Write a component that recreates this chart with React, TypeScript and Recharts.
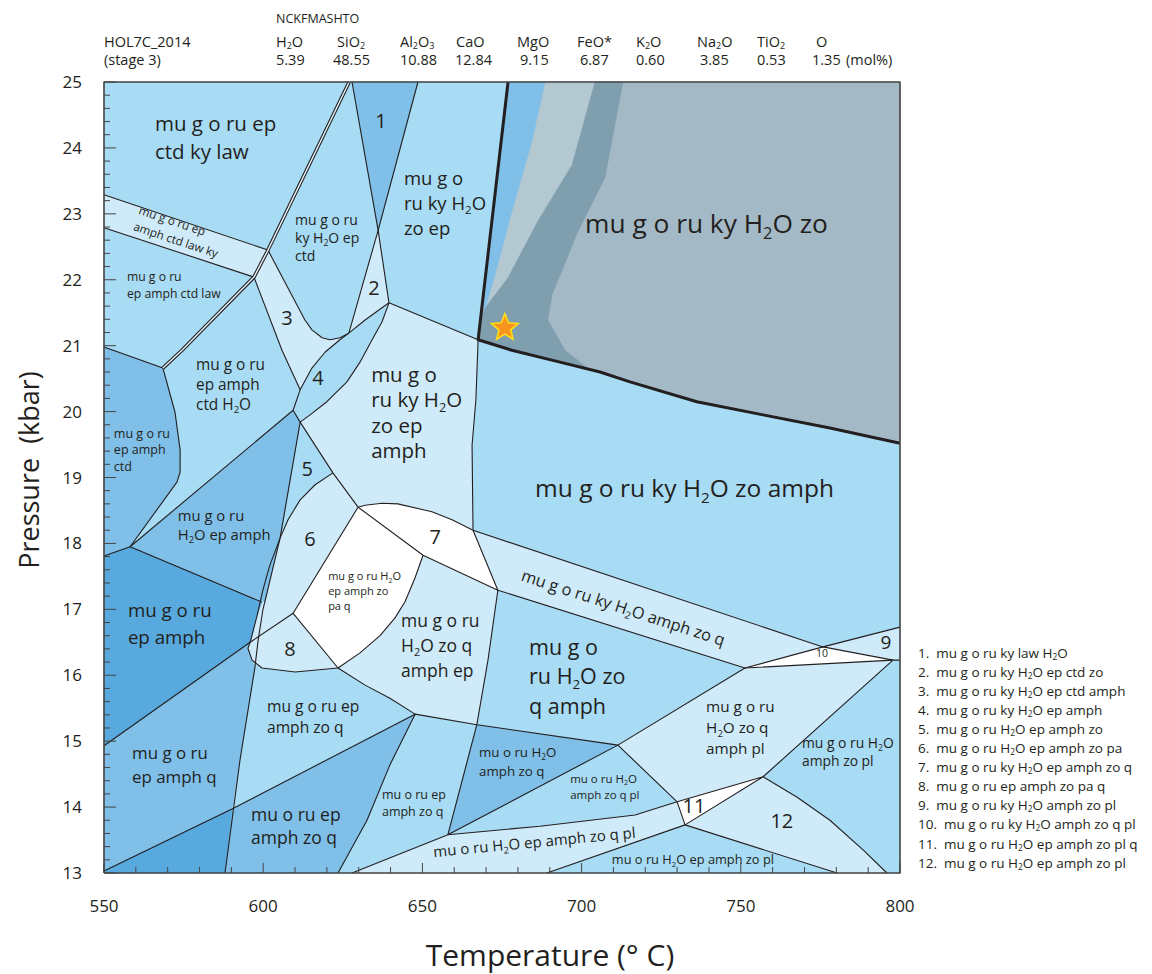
import React from 'react';
import { ComposedChart, Scatter, XAxis, YAxis } from 'recharts';

type Pt = [number, number];

const FONT = "'Open Sans', 'Noto Sans', sans-serif";
const INK = '#231f20';

const C_VLIGHT = '#cfeaf9';
const C_LIGHT = '#a8dbf4';
const C_MED = '#7fbfe8';
const C_DARK = '#57a9de';
const C_WHITE = '#ffffff';
const C_GREY = '#a4b9c6';
const C_GREY_LIGHT = '#b4c8d2';
const C_GREY_DARK = '#7f9fae';

// sample composition (mol%)
const OXIDES = ['H2O', 'SiO2', 'Al2O3', 'CaO', 'MgO', 'FeO*', 'K2O', 'Na2O', 'TiO2', 'O'];
const MOL = ['5.39', '48.55', '10.88', '12.84', '9.15', '6.87', '0.60', '3.85', '0.53', '1.35'];

// axis labels
const T_LABELS = [550, 600, 650, 700, 750, 800];
const P_LABELS = [13, 14, 15, 16, 17, 18, 19, 20, 21, 22, 23, 24, 25];
const T_MINOR = Array.from({ length: 26 }, (_, i) => 550 + i * 10);
const P_MINOR = Array.from({ length: 61 }, (_, i) => +(13 + i * 0.2).toFixed(1));

// ---- field polygons, (T °C, P kbar) ----
const frame: Pt[] = [[550, 13], [800, 13], [800, 25], [550, 25]];

const lawKyStrip: Pt[] = [[550, 23.29], [601.5, 22.45], [597.1, 22.04], [550, 22.79]];
const field3: Pt[] = [[601.5, 22.45], [613.1, 21.39], [615.3, 21.24], [618.5, 21.12], [621.0, 21.09], [624.1, 21.12], [626.9, 21.19], [624.1, 21.09], [619.4, 20.9], [615.3, 20.66], [611.6, 20.33], [605.9, 20.93], [597.1, 22.04]];
const field2: Pt[] = [[636.1, 22.75], [639.5, 21.65], [632.0, 21.39], [626.9, 21.19]];
const fieldZoEpAmph: Pt[] = [[611.6, 19.84], [614.7, 19.95], [620.0, 20.15], [626.3, 20.45], [630.4, 20.75], [634.2, 21.09], [637.3, 21.36], [639.5, 21.65], [667.5, 21.09], [666.8, 20.18], [665.6, 19.49], [665.9, 18.2], [659.3, 18.36], [653.0, 18.48], [642.3, 18.6], [637.3, 18.61], [632.0, 18.58], [629.8, 18.55], [621.9, 19.07]];
const field6: Pt[] = [[621.9, 19.07], [629.8, 18.55], [609.4, 16.94], [595.9, 16.5], [598.1, 16.91], [599.9, 17.29], [602.1, 17.67], [605.3, 18.08], [607.8, 18.36], [611.6, 18.66], [616.3, 18.89]];
const field8: Pt[] = [[595.9, 16.5], [609.4, 16.94], [623.5, 16.11], [610.0, 16.05], [599.6, 16.11], [596.5, 16.23], [595.2, 16.41]];
const fieldZoQAmphEp: Pt[] = [[650.2, 17.82], [673.7, 17.29], [670.6, 16.23], [667.1, 15.25], [647.7, 15.41], [639.8, 15.65], [632.0, 15.85], [623.5, 16.11], [630.4, 16.34], [636.7, 16.6], [641.4, 16.87], [644.5, 17.11], [647.7, 17.48]];
const stripKyAmphZoQ: Pt[] = [[665.9, 18.2], [775.8, 16.43], [751.3, 16.11], [673.7, 17.29]];
const field9: Pt[] = [[775.8, 16.43], [800, 16.73], [800, 16.23], [797.8, 16.23]];
const fieldZoQAmphPl: Pt[] = [[751.3, 16.11], [797.8, 16.23], [757.0, 14.46], [730.0, 14.08], [711.4, 14.94]];
const field12: Pt[] = [[757.0, 14.46], [767.7, 14.15], [778.0, 13.8], [788.4, 13.35], [795.9, 13.0], [780.2, 13.0], [732.5, 13.73]];
const stripEpAmphZoQPl: Pt[] = [[627.9, 13.0], [658.0, 13.58], [686.9, 13.71], [716.8, 13.88], [730.0, 14.08], [732.5, 13.73], [689.1, 13.0]];

const fieldPaQ: Pt[] = [[629.8, 18.55], [650.2, 17.82], [647.7, 17.48], [644.5, 17.11], [641.4, 16.87], [636.7, 16.6], [630.4, 16.34], [623.5, 16.11], [609.4, 16.94]];
const field7: Pt[] = [[629.8, 18.55], [632.0, 18.58], [637.3, 18.61], [642.3, 18.6], [653.0, 18.48], [659.3, 18.36], [665.9, 18.2], [673.7, 17.29], [650.2, 17.82]];
const field10: Pt[] = [[751.3, 16.11], [775.8, 16.43], [797.8, 16.23]];
const field11: Pt[] = [[730.0, 14.08], [757.0, 14.46], [732.5, 13.73]];

const field1: Pt[] = [[627.9, 25], [648.6, 25], [636.1, 22.75]];
const fieldEpAmphCtd: Pt[] = [[550, 20.98], [568.5, 20.66], [572.3, 19.99], [573.9, 19.42], [573.9, 19.08], [572.9, 18.93], [558.2, 17.95], [550, 17.81]];
const fieldH2OEpAmph: Pt[] = [[609.4, 20.02], [611.6, 19.84], [605.3, 18.08], [600.6, 17.11], [558.2, 17.95]];
const fieldEpAmphQ: Pt[] = [[550, 14.93], [595.9, 16.5], [595.2, 16.41], [596.5, 16.23], [597.4, 16.12], [590.2, 13.97], [550, 13.03]];
const fieldMuOEpAmphZoQ: Pt[] = [[588.0, 13.0], [590.2, 13.97], [647.7, 15.41], [639.8, 14.64], [632.6, 13.8], [623.5, 13.0]];
const fieldMuOH2OAmphZoQ: Pt[] = [[667.1, 15.25], [711.4, 14.94], [658.0, 13.58]];

const fieldEpAmph: Pt[] = [[550, 17.81], [558.2, 17.95], [599.6, 17.11], [598.1, 16.91], [595.9, 16.5], [550, 14.93]];
const cornerDark: Pt[] = [[550, 13.03], [590.2, 13.97], [588.0, 13.0], [550, 13.0]];

const greyField: Pt[] = [[676.9, 25], [800, 25], [800, 19.52], [778.0, 19.75], [757.0, 19.95], [736.2, 20.15], [715.2, 20.45], [705.8, 20.6], [693.2, 20.75], [678.1, 20.93], [667.5, 21.09]];
const greyLightBand: Pt[] = [[688.5, 25], [704.2, 25], [697.0, 23.74], [686.3, 22.89], [676.9, 22.03], [669.7, 21.57], [671.9, 21.92], [678.1, 23.04], [684.4, 24.1]];
const greyDarkBand: Pt[] = [[704.2, 25], [713.0, 25], [707.3, 23.54], [698.9, 22.74], [690.7, 21.77], [689.4, 21.39], [694.8, 20.93], [702.6, 20.63], [693.2, 20.75], [678.1, 20.93], [667.5, 21.09], [668.4, 21.42], [669.7, 21.57], [676.9, 22.03], [686.3, 22.89], [697.0, 23.74]];
const blueSliver: Pt[] = [[676.9, 25], [688.5, 25], [684.4, 24.1], [678.1, 23.04], [671.9, 21.92], [669.7, 21.57], [668.4, 21.57]];

const FILLS: { pts: Pt[]; color: string }[] = [
  { pts: frame, color: C_LIGHT },
  { pts: lawKyStrip, color: C_VLIGHT },
  { pts: field3, color: C_VLIGHT },
  { pts: field2, color: C_VLIGHT },
  { pts: fieldZoEpAmph, color: C_VLIGHT },
  { pts: field6, color: C_VLIGHT },
  { pts: fieldZoQAmphEp, color: C_VLIGHT },
  { pts: stripKyAmphZoQ, color: C_VLIGHT },
  { pts: field9, color: C_VLIGHT },
  { pts: fieldZoQAmphPl, color: C_VLIGHT },
  { pts: field12, color: C_VLIGHT },
  { pts: stripEpAmphZoQPl, color: C_VLIGHT },
  { pts: fieldPaQ, color: C_WHITE },
  { pts: field7, color: C_WHITE },
  { pts: field10, color: C_WHITE },
  { pts: field11, color: C_WHITE },
  { pts: field1, color: C_MED },
  { pts: fieldEpAmphCtd, color: C_MED },
  { pts: fieldH2OEpAmph, color: C_MED },
  { pts: fieldEpAmphQ, color: C_MED },
  { pts: fieldMuOEpAmphZoQ, color: C_MED },
  { pts: fieldMuOH2OAmphZoQ, color: C_MED },
  { pts: fieldEpAmph, color: C_DARK },
  { pts: cornerDark, color: C_DARK },
  { pts: field8, color: C_VLIGHT },
  { pts: greyField, color: C_GREY },
  { pts: greyLightBand, color: C_GREY_LIGHT },
  { pts: greyDarkBand, color: C_GREY_DARK },
  { pts: blueSliver, color: C_MED },
];

// ---- field boundaries ----
const doubleLine: Pt[] = [[627.0, 25], [601.5, 22.45], [597.1, 22.04], [574.5, 20.93], [568.5, 20.66]];
const thickLine: Pt[] = [[676.9, 25], [667.5, 21.09], [678.1, 20.93], [693.2, 20.75], [705.8, 20.6], [715.2, 20.45], [736.2, 20.15], [757.0, 19.95], [778.0, 19.75], [800, 19.52]];

const BOUNDARIES: Pt[][] = [
  [[550, 23.29], [601.5, 22.45]],
  [[550, 22.79], [597.1, 22.04]],
  [[550, 20.98], [568.5, 20.66]],
  [[568.5, 20.66], [572.3, 19.99], [573.9, 19.42], [573.9, 19.08], [572.9, 18.93], [558.2, 17.95]],
  [[550, 17.81], [558.2, 17.95]],
  [[558.2, 17.95], [609.4, 20.02]],
  [[597.1, 22.04], [605.9, 20.93], [611.6, 20.33]],
  [[601.5, 22.45], [613.1, 21.39], [615.3, 21.24], [618.5, 21.12], [621.0, 21.09], [624.1, 21.12], [626.9, 21.19]],
  [[627.9, 25], [636.1, 22.75], [626.9, 21.19]],
  [[648.6, 25], [636.1, 22.75], [639.5, 21.65]],
  [[609.4, 20.02], [611.6, 20.33], [615.3, 20.66], [619.4, 20.9], [624.1, 21.09], [626.9, 21.19], [632.0, 21.39], [639.5, 21.65]],
  [[639.5, 21.65], [637.3, 21.36], [634.2, 21.09], [630.4, 20.75], [626.3, 20.45], [620.0, 20.15], [614.7, 19.95], [611.6, 19.84], [609.4, 20.02]],
  [[639.5, 21.65], [667.5, 21.09]],
  [[667.5, 21.09], [666.8, 20.18], [665.6, 19.49], [665.9, 18.2]],
  [[629.8, 18.55], [632.0, 18.58], [637.3, 18.61], [642.3, 18.6], [653.0, 18.48], [659.3, 18.36], [665.9, 18.2]],
  [[665.9, 18.2], [775.8, 16.43], [800, 16.73]],
  [[611.6, 19.84], [621.9, 19.07], [629.8, 18.55]],
  [[621.9, 19.07], [616.3, 18.89], [611.6, 18.66], [607.8, 18.36], [605.3, 18.08], [602.1, 17.67], [599.9, 17.29], [598.1, 16.91], [595.9, 16.5], [595.2, 16.41], [596.5, 16.23], [599.6, 16.11], [610.0, 16.05], [623.5, 16.11]],
  [[611.6, 19.84], [605.3, 18.08], [599.9, 16.99], [598.4, 16.53], [597.4, 16.12], [592.7, 14.71], [588.0, 13.0]],
  [[558.2, 17.95], [599.6, 17.11]],
  [[550, 14.93], [595.9, 16.5], [609.4, 16.94]],
  [[629.8, 18.55], [609.4, 16.94], [623.5, 16.11]],
  [[629.8, 18.55], [650.2, 17.82], [673.7, 17.29]],
  [[665.9, 18.2], [673.7, 17.29], [670.6, 16.23], [667.1, 15.25]],
  [[650.2, 17.82], [647.7, 17.48], [644.5, 17.11], [641.4, 16.87], [636.7, 16.6], [630.4, 16.34], [623.5, 16.11]],
  [[623.5, 16.11], [632.0, 15.85], [639.8, 15.65], [647.7, 15.41]],
  [[550, 13.03], [590.2, 13.97], [647.7, 15.41], [667.1, 15.25], [711.4, 14.94]],
  [[647.7, 15.41], [639.8, 14.64], [632.6, 13.8], [623.5, 13.0]],
  [[673.7, 17.29], [751.3, 16.11], [797.8, 16.23], [800, 16.23]],
  [[751.3, 16.11], [775.8, 16.43], [797.8, 16.23]],
  [[751.3, 16.11], [711.4, 14.94], [658.0, 13.58], [627.9, 13.0]],
  [[667.1, 15.25], [658.0, 13.58]],
  [[658.0, 13.58], [686.9, 13.71], [716.8, 13.88], [730.0, 14.08]],
  [[711.4, 14.94], [730.0, 14.08], [732.5, 13.73], [689.1, 13.0]],
  [[730.0, 14.08], [757.0, 14.46], [732.5, 13.73], [780.2, 13.0]],
  [[797.8, 16.23], [757.0, 14.46], [767.7, 14.15], [778.0, 13.8], [788.4, 13.35], [795.9, 13.0]],
];

// ---- field labels ----
type FieldLabel = { T: number; P: number; lines: string[]; size: number; lh?: number; rot?: number };
const FIELD_LABELS: FieldLabel[] = [
  { T: 566.0, P: 24.26, lines: ['mu g o ru ep', 'ctd ky law'], size: 20.5, lh: 28 },
  { T: 610.0, P: 22.83, lines: ['mu g o ru', 'ky H2O ep', 'ctd'], size: 14, lh: 18 },
  { T: 560.7, P: 23.0, lines: ['mu g o ru ep', 'amph ctd law ky'], size: 11.7, lh: 17, rot: 18.5 },
  { T: 557.2, P: 21.98, lines: ['mu g o ru', 'ep amph ctd law'], size: 12.2, lh: 17 },
  { T: 644.2, P: 23.44, lines: ['mu g o', 'ru ky H2O', 'zo ep'], size: 18.5, lh: 25 },
  { T: 701.1, P: 22.71, lines: ['mu g o ru ky H2O zo'], size: 26.3 },
  { T: 578.9, P: 20.63, lines: ['mu g o ru', 'ep amph', 'ctd H2O'], size: 15.4, lh: 20 },
  { T: 553.1, P: 19.6, lines: ['mu g o ru', 'ep amph', 'ctd'], size: 12.5, lh: 16.5 },
  { T: 573.2, P: 18.34, lines: ['mu g o ru', 'H2O ep amph'], size: 14.8, lh: 19 },
  { T: 620.4, P: 17.44, lines: ['mu g o ru H2O', 'ep amph zo', 'pa q'], size: 11, lh: 15 },
  { T: 633.9, P: 20.45, lines: ['mu g o', 'ru ky H2O', 'zo ep', 'amph'], size: 20.5, lh: 25.3 },
  { T: 685.4, P: 18.7, lines: ['mu g o ru ky H2O zo amph'], size: 24.5 },
  { T: 680.7, P: 17.44, lines: ['mu g o ru ky H2O amph zo q'], size: 16.3, rot: 18 },
  { T: 557.5, P: 16.88, lines: ['mu g o ru', 'ep amph'], size: 18.7, lh: 27 },
  { T: 601.2, P: 15.44, lines: ['mu g o ru ep', 'amph zo q'], size: 15.6, lh: 21 },
  { T: 558.8, P: 14.73, lines: ['mu g o ru', 'ep amph q'], size: 16.9, lh: 24 },
  { T: 596.2, P: 13.79, lines: ['mu o ru ep', 'amph zo q'], size: 17.5, lh: 23 },
  { T: 643.3, P: 16.73, lines: ['mu g o ru', 'H2O zo q', 'amph ep'], size: 17.5, lh: 25 },
  { T: 683.5, P: 16.31, lines: ['mu g o', 'ru H2O zo', 'q amph'], size: 21.5, lh: 29.5 },
  { T: 667.8, P: 14.76, lines: ['mu o ru H2O', 'amph zo q'], size: 13.3, lh: 19 },
  { T: 637.3, P: 14.12, lines: ['mu o ru ep', 'amph zo q'], size: 12.5, lh: 16.5 },
  { T: 696.4, P: 14.37, lines: ['mu o ru H2O', 'amph zo q pl'], size: 11.5, lh: 16 },
  { T: 653.6, P: 13.24, lines: ['mu o ru H2O ep amph zo q pl'], size: 15, rot: -5.5 },
  { T: 739.1, P: 15.44, lines: ['mu g o ru', 'H2O zo q', 'amph pl'], size: 15.3, lh: 21 },
  { T: 769.2, P: 14.9, lines: ['mu g o ru H2O', 'amph zo pl'], size: 13.9, lh: 18 },
  { T: 709.5, P: 13.14, lines: ['mu o ru H2O ep amph zo pl'], size: 12.8 },
];

const FIELD_NUMBERS = [
  { T: 637.0, P: 24.42, n: '1', size: 20 },
  { T: 634.8, P: 21.89, n: '2', size: 20 },
  { T: 607.5, P: 21.43, n: '3', size: 20 },
  { T: 617.2, P: 20.51, n: '4', size: 20 },
  { T: 613.8, P: 19.14, n: '5', size: 20 },
  { T: 614.7, P: 18.08, n: '6', size: 20 },
  { T: 654.0, P: 18.1, n: '7', size: 20 },
  { T: 608.4, P: 16.4, n: '8', size: 20 },
  { T: 795.6, P: 16.5, n: '9', size: 19 },
  { T: 775.5, P: 16.34, n: '10', size: 10.5 },
  { T: 735.3, P: 14.03, n: '11', size: 20 },
  { T: 762.9, P: 13.8, n: '12', size: 20 },
];

const SAMPLE_POINT = [{ T: 675.9, P: 21.27 }];

const LEGEND = [
  'mu g o ru ky law H2O',
  'mu g o ru ky H2O ep ctd zo',
  'mu g o ru ky H2O ep ctd amph',
  'mu g o ru ky H2O ep amph',
  'mu g o ru H2O ep amph zo',
  'mu g o ru H2O ep amph zo pa',
  'mu g o ru ky H2O ep amph zo q',
  'mu g o ru ep amph zo pa q',
  'mu g o ru ky H2O amph zo pl',
  'mu g o ru ky H2O amph zo q pl',
  'mu g o ru H2O ep amph zo pl q',
  'mu g o ru H2O ep amph zo pl',
];

const toData = (pts: Pt[]) => pts.map(([T, P]) => ({ T, P }));
const ptsAttr = (points: any[]) => (points || []).map((p) => `${p.x},${p.y}`).join(' ');

const fillLine = (fill: string) => (props: any) => (
  <polygon points={ptsAttr(props.points)} fill={fill} stroke={fill} strokeWidth={0.5} />
);
const strokeLine = (stroke: string, width: number) => (props: any) => (
  <polyline points={ptsAttr(props.points)} fill="none" stroke={stroke} strokeWidth={width} strokeLinejoin="round" />
);
const noDot = () => <g />;

// "H2O" with a lowered 2 inside svg text
function svgChem(s: string, size: number) {
  const parts = s.split('H2O');
  const out: React.ReactNode[] = [];
  parts.forEach((p, i) => {
    if (i > 0) {
      out.push(<tspan key={`h${i}`}>H</tspan>);
      out.push(<tspan key={`s${i}`} fontSize={size * 0.62} dy={size * 0.22}>2</tspan>);
      out.push(<tspan key={`o${i}`} dy={-size * 0.22}>O</tspan>);
    }
    if (p) out.push(<tspan key={`p${i}`}>{p}</tspan>);
  });
  return out;
}

// digits become subscripts in oxide formulas
function htmlChem(s: string) {
  return s.split('').map((ch, i) =>
    /[0-9]/.test(ch) ? (
      <span key={i} style={{ fontSize: '0.62em', verticalAlign: '-0.25em', lineHeight: 0 }}>{ch}</span>
    ) : (
      <span key={i}>{ch}</span>
    )
  );
}

const renderFieldLabel = (props: any) => {
  const d = props.payload ?? props;
  const { cx, cy } = props;
  const lh = d.lh ?? d.size * 1.2;
  return (
    <g transform={d.rot ? `rotate(${d.rot} ${cx} ${cy})` : undefined}>
      {d.lines.map((line: string, i: number) => (
        <text key={i} x={cx} y={cy + i * lh} fontSize={d.size} fill={INK} fontFamily={FONT}>
          {svgChem(line, d.size)}
        </text>
      ))}
    </g>
  );
};

const renderFieldNumber = (props: any) => {
  const d = props.payload ?? props;
  return (
    <text x={props.cx} y={props.cy} fontSize={d.size} fill={INK} fontFamily={FONT} textAnchor="middle" dominantBaseline="central">
      {d.n}
    </text>
  );
};

const renderStar = (props: any) => {
  const { cx, cy } = props;
  const pts: string[] = [];
  for (let k = 0; k < 10; k++) {
    const a = (-90 + k * 36) * (Math.PI / 180);
    const r = k % 2 === 0 ? 14 : 6.2;
    pts.push(`${cx + r * Math.cos(a)},${cy + r * Math.sin(a)}`);
  }
  return <polygon points={pts.join(' ')} fill="#f7941d" stroke="#ffde17" strokeWidth={1.6} />;
};

const renderXTick = (props: any) => {
  const { x, y, payload } = props;
  const v = payload.value;
  const major = T_LABELS.includes(v);
  return (
    <g>
      <line x1={x} x2={x} y1={y} y2={y - (major ? 10 : 6)} stroke="#444" strokeWidth={1} />
      {major && (
        <text x={x} y={y + 39} textAnchor="middle" fontSize={17} fill={INK} fontFamily={FONT}>{v}</text>
      )}
    </g>
  );
};

const renderYTick = (props: any) => {
  const { x, y, payload } = props;
  const v = payload.value;
  const major = P_LABELS.some((p) => Math.abs(p - v) < 1e-6);
  return (
    <g>
      <line x1={x} x2={x + (major ? 12 : 6)} y1={y} y2={y} stroke="#444" strokeWidth={1} />
      {major && (
        <text x={x - 22} y={y + 6} textAnchor="end" fontSize={17} fill={INK} fontFamily={FONT}>{Math.round(v)}</text>
      )}
    </g>
  );
};

const OXIDE_X = [276, 337, 400, 456, 517, 577, 636, 697, 757, 816];
const MOL_X = [276, 333, 400, 455, 520, 580, 636, 700, 757, 812];

export default function App() {
  const text = (s: React.ReactNode, left: number, cy: number, size: number, key?: string) => (
    <div
      key={key}
      style={{ position: 'absolute', left, top: cy - size * 0.7, fontSize: size, lineHeight: `${size * 1.4}px`, whiteSpace: 'pre', color: INK }}
    >
      {s}
    </div>
  );

  return (
    <div style={{ position: 'absolute', left: 0, top: 0, width: 1152, height: 974, background: '#fff', fontFamily: FONT, overflow: 'hidden' }}>
      <ComposedChart width={1152} height={974} margin={{ top: 82, right: 252, left: 24, bottom: 41 }}>
        <XAxis
          type="number"
          dataKey="T"
          domain={[550, 800]}
          ticks={T_MINOR}
          interval={0}
          axisLine={false}
          tickLine={false}
          tickSize={0}
          tickMargin={0}
          height={60}
          tick={renderXTick}
        />
        <YAxis
          type="number"
          dataKey="P"
          domain={[13, 25]}
          ticks={P_MINOR}
          interval={0}
          axisLine={false}
          tickLine={false}
          tickSize={0}
          tickMargin={0}
          width={80}
          tick={renderYTick}
        />

        {FILLS.map((f, i) => (
          <Scatter key={`f${i}`} data={toData(f.pts)} line={fillLine(f.color)} shape={noDot} isAnimationActive={false} legendType="none" />
        ))}

        {BOUNDARIES.map((b, i) => (
          <Scatter key={`b${i}`} data={toData(b)} line={strokeLine(INK, 1.1)} shape={noDot} isAnimationActive={false} legendType="none" />
        ))}

        <Scatter data={toData(doubleLine)} line={strokeLine(INK, 3.6)} shape={noDot} isAnimationActive={false} legendType="none" />
        <Scatter data={toData(doubleLine)} line={strokeLine('#e4f3fb', 1.4)} shape={noDot} isAnimationActive={false} legendType="none" />
        <Scatter data={toData(thickLine)} line={strokeLine(INK, 3)} shape={noDot} isAnimationActive={false} legendType="none" />
        <Scatter data={toData([...frame, frame[0]])} line={strokeLine('#444', 1.6)} shape={noDot} isAnimationActive={false} legendType="none" />

        <Scatter data={FIELD_LABELS} shape={renderFieldLabel} isAnimationActive={false} legendType="none" />
        <Scatter data={FIELD_NUMBERS} shape={renderFieldNumber} isAnimationActive={false} legendType="none" />
        <Scatter data={SAMPLE_POINT} shape={renderStar} isAnimationActive={false} legendType="none" />
      </ComposedChart>

      {/* bulk composition header */}
      {text('NCKFMASHTO', 276, 19, 12.5)}
      {text('HOL7C_2014', 104, 42, 14.5)}
      {text('(stage 3)', 104, 60, 14.5)}
      {OXIDES.map((o, i) => text(htmlChem(o), OXIDE_X[i], 42, 14.5, `ox${i}`))}
      {MOL.map((m, i) => text(m, MOL_X[i], 60, 14.5, `mol${i}`))}
      {text('(mol%)', 846, 60, 14.5)}

      {/* numbered field legend */}
      {LEGEND.map((s, i) => {
        const parts = s.split('H2O');
        return text(
          <>
            {`${i + 1}.  `}
            {parts.map((p, j) => (
              <React.Fragment key={j}>
                {j > 0 && htmlChem('H2O')}
                {p}
              </React.Fragment>
            ))}
          </>,
          918,
          653 + i * 19.1,
          13.5,
          `lg${i}`
        );
      })}

      {/* axis titles */}
      <div
        style={{
          position: 'absolute',
          left: 28,
          top: 470,
          transform: 'translate(-50%, -50%) rotate(-90deg)',
          fontSize: 27,
          lineHeight: 1,
          whiteSpace: 'pre',
          color: INK,
        }}
      >
        Pressure  (kbar)
      </div>
      <div
        style={{
          position: 'absolute',
          left: 550,
          top: 955,
          transform: 'translate(-50%, -50%)',
          fontSize: 30,
          lineHeight: 1,
          whiteSpace: 'pre',
          color: INK,
        }}
      >
        Temperature (° C)
      </div>
    </div>
  );
}
